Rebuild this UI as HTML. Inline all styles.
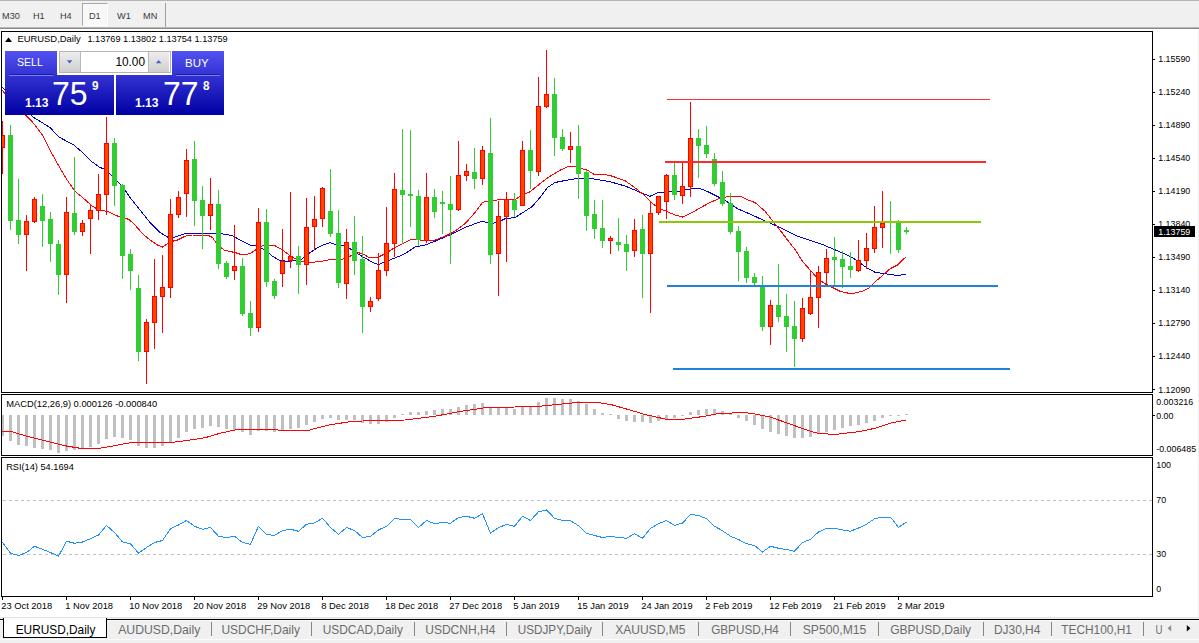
<!DOCTYPE html>
<html><head><meta charset="utf-8"><title>EURUSD,Daily</title>
<style>
html,body{margin:0;padding:0;}
body{width:1199px;height:643px;overflow:hidden;background:#f0f0f0;font-family:"Liberation Sans",sans-serif;position:relative;}
#tb{position:absolute;left:0;top:0;width:1199px;height:27px;background:#f0f0f0;border-top:1px solid #b4b4b4;box-sizing:border-box;}
#tb span{position:absolute;top:9px;font-size:9.8px;line-height:11px;color:#3a3a3a;transform:scaleX(.935);transform-origin:0 0;}
#d1{position:absolute;left:82px;top:2px;width:24px;height:21px;border:1px solid #a8a8a8;border-right-color:#fff;border-bottom-color:#fff;background:#f8f8f8;}
#sep{position:absolute;left:165px;top:2px;width:1px;height:24px;background:#a0a0a0;}
#l1{position:absolute;left:0;top:27px;width:1199px;height:1px;background:#b8b8b8;}
#l2{position:absolute;left:0;top:28px;width:1199px;height:1px;background:#8a8a8a;}
#main{position:absolute;left:0;top:29px;width:1198px;height:588px;background:#fff;}
svg{position:absolute;left:0;top:0;}
svg text{font-family:"Liberation Sans",sans-serif;fill:#000;}
#tabs{position:absolute;left:0;top:617px;width:1199px;height:26px;background:#f0f0f0;border-top:1px solid #e2e2e2;box-sizing:border-box;}
#tabs .ln{position:absolute;left:0;top:1px;width:1199px;height:1px;background:#000;border-bottom:1px solid #fafafa;}
#tabs .bl2{position:absolute;left:0;top:21px;width:1199px;height:1px;background:#fbfbfb;}
#tabs .act{position:absolute;left:3px;top:0px;width:102px;height:19px;background:#fff;border:1px solid #000;border-top:none;}
#tabs span{position:absolute;top:5px;font-size:11.8px;line-height:14px;color:#7d7d7d;white-space:nowrap;}
#tabs span.a{color:#000;}
#tabs i{position:absolute;top:4px;width:1px;height:14px;background:#868686;}
#tp{position:absolute;left:5px;top:51px;width:219px;height:64px;}
#tp .bl{position:absolute;background:linear-gradient(#5252f2,#0000a2);}
#tp .t{position:absolute;color:#fff;white-space:nowrap;}
</style></head><body>

<div id="tb">
<div id="d1"></div><div id="sep"></div>
<span style="left:2.0px">M30</span>
<span style="left:32.8px">H1</span>
<span style="left:59.9px">H4</span>
<span style="left:88.5px">D1</span>
<span style="left:116.5px">W1</span>
<span style="left:142.7px">MN</span>
</div><div id="l1"></div><div id="l2"></div>
<div id="main"></div>
<svg width="1199" height="643" viewBox="0 0 1199 643" font-size="9.3">
<g shape-rendering="crispEdges" fill="none" stroke="#000" stroke-width="1">
<rect x="1.5" y="31.5" width="1151" height="361"/>
<rect x="1.5" y="394.5" width="1151" height="61"/>
<rect x="1.5" y="457.5" width="1151" height="139"/>
</g>
<defs><clipPath id="cm"><rect x="2" y="32" width="1150" height="360"/></clipPath></defs>
<g clip-path="url(#cm)" shape-rendering="crispEdges">
<polyline points="2.00,87.00 10.00,95.00 20.00,105.00 33.75,117.50 50.00,127.50 58.75,137.00 73.75,145.00 82.50,152.50 91.25,161.25 100.00,167.50 105.00,169.25 112.50,176.25 122.50,186.25 130.00,197.50 140.00,210.00 150.00,222.50 160.00,232.50 167.50,237.00 175.00,237.00 185.00,233.75 195.00,233.00 212.50,233.00 225.00,234.25 232.50,235.75 240.00,240.00 250.00,245.00 257.50,246.25 265.00,250.00 272.50,256.25 280.00,260.50 287.50,261.25 300.00,260.50 310.00,252.50 320.00,246.25 330.00,242.50 336.25,245.00 343.75,245.75 350.00,248.75 357.50,253.75 365.00,258.00 373.75,263.00 378.75,264.50 386.25,261.25 395.00,258.00 405.00,253.75 415.00,247.00 425.00,245.00 435.00,241.25 445.00,237.00 455.00,232.50 465.00,227.50 475.00,223.75 482.50,221.25 490.00,223.75 497.50,222.50 505.00,218.75 515.00,217.50 525.00,211.25 532.50,206.25 540.00,197.50 547.50,187.50 555.00,182.50 565.00,180.50 577.50,178.50 590.00,178.25 610.00,181.75 625.00,186.00 640.00,192.25 650.00,196.25 657.50,192.75 667.50,191.75 680.00,191.00 690.00,189.00 700.00,188.50 707.50,191.50 717.50,196.50 727.50,202.00 737.50,208.75 747.50,213.00 757.50,217.50 767.50,222.00 777.50,226.25 787.50,231.25 797.50,236.25 805.00,238.75 812.50,241.25 822.50,244.50 832.50,248.75 842.50,253.00 852.50,257.50 860.00,263.00 867.50,268.25 875.00,272.25 885.00,273.75 897.50,275.50 905.75,274.25" fill="none" stroke="#0000d0" stroke-width="1" />
<polyline points="2.00,90.00 10.00,100.00 20.00,110.00 28.25,117.50 35.00,125.00 42.50,135.00 50.00,150.00 57.50,163.75 66.25,178.75 75.00,191.25 82.50,197.50 92.50,206.25 100.00,210.50 107.50,211.25 115.00,215.00 122.50,218.00 128.75,219.25 135.00,225.00 142.50,233.75 150.00,240.00 157.50,245.00 162.50,247.00 167.50,243.75 172.50,241.25 177.50,240.00 185.00,236.25 192.50,235.00 207.50,235.00 212.50,237.50 217.50,245.00 225.00,250.50 235.00,252.50 242.50,255.00 250.00,253.75 257.50,248.75 262.50,245.75 275.00,245.75 282.50,250.00 290.00,255.50 295.00,258.75 305.00,262.50 320.00,261.75 330.00,259.50 340.00,260.00 350.00,256.25 357.50,252.50 362.50,253.75 370.00,258.00 377.50,257.50 385.00,253.75 395.00,247.50 402.50,243.75 411.25,239.50 417.50,239.50 425.00,240.75 435.00,240.00 445.00,236.25 455.00,231.25 465.00,223.75 475.00,212.50 482.50,202.50 490.00,200.50 505.00,199.50 515.00,200.00 520.00,196.25 530.00,191.75 540.00,183.75 550.00,176.25 560.00,170.25 567.50,166.75 575.00,166.25 582.50,168.75 587.50,170.25 595.00,175.00 603.00,174.00 612.50,176.25 625.00,180.75 634.00,187.00 642.50,193.75 650.00,201.25 657.50,207.50 666.25,211.25 675.00,215.00 682.50,217.00 690.00,213.75 700.00,208.00 710.00,202.50 720.00,198.25 730.00,196.25 740.00,196.25 750.00,200.75 755.00,202.50 765.00,211.25 775.00,223.75 780.00,230.00 787.50,240.00 795.00,249.50 802.50,261.25 810.00,270.00 817.50,278.25 825.00,283.75 832.50,287.50 840.00,291.25 847.50,293.00 855.00,293.00 862.50,291.25 868.75,288.00 875.00,282.00 882.50,275.50 890.00,268.75 897.50,265.00 905.75,257.00" fill="none" stroke="#ff0000" stroke-width="1" />
</g>
<g shape-rendering="crispEdges" clip-path="url(#cm)">
<rect x="2" y="121" width="1" height="53" fill="#ff0000"/>
<rect x="0" y="135" width="5" height="13" fill="#ff0000"/>
<rect x="1" y="136" width="3" height="11" fill="#ff4500"/>
<rect x="10" y="125" width="1" height="105" fill="#32cd32"/>
<rect x="8" y="135" width="5" height="86" fill="#32cd32"/>
<rect x="18" y="179" width="1" height="65" fill="#32cd32"/>
<rect x="16" y="220" width="5" height="15" fill="#32cd32"/>
<rect x="26" y="215" width="1" height="56" fill="#ff0000"/>
<rect x="24" y="221" width="5" height="14" fill="#ff0000"/>
<rect x="25" y="222" width="3" height="12" fill="#ff4500"/>
<rect x="34" y="197" width="1" height="26" fill="#ff0000"/>
<rect x="32" y="199" width="5" height="23" fill="#ff0000"/>
<rect x="33" y="200" width="3" height="21" fill="#ff4500"/>
<rect x="42" y="194" width="1" height="53" fill="#32cd32"/>
<rect x="40" y="206" width="5" height="15" fill="#32cd32"/>
<rect x="50" y="212" width="1" height="50" fill="#32cd32"/>
<rect x="48" y="219" width="5" height="25" fill="#32cd32"/>
<rect x="58" y="240" width="1" height="55" fill="#32cd32"/>
<rect x="56" y="244" width="5" height="31" fill="#32cd32"/>
<rect x="66" y="197" width="1" height="106" fill="#ff0000"/>
<rect x="64" y="212" width="5" height="63" fill="#ff0000"/>
<rect x="65" y="213" width="3" height="61" fill="#ff4500"/>
<rect x="74" y="157" width="1" height="78" fill="#32cd32"/>
<rect x="72" y="213" width="5" height="19" fill="#32cd32"/>
<rect x="82" y="220" width="1" height="16" fill="#ff0000"/>
<rect x="80" y="223" width="5" height="9" fill="#ff0000"/>
<rect x="81" y="224" width="3" height="7" fill="#ff4500"/>
<rect x="90" y="205" width="1" height="49" fill="#ff0000"/>
<rect x="88" y="210" width="5" height="9" fill="#ff0000"/>
<rect x="89" y="211" width="3" height="7" fill="#ff4500"/>
<rect x="98" y="174" width="1" height="46" fill="#ff0000"/>
<rect x="96" y="194" width="5" height="17" fill="#ff0000"/>
<rect x="97" y="195" width="3" height="15" fill="#ff4500"/>
<rect x="106" y="117" width="1" height="98" fill="#ff0000"/>
<rect x="104" y="143" width="5" height="52" fill="#ff0000"/>
<rect x="105" y="144" width="3" height="50" fill="#ff4500"/>
<rect x="114" y="138" width="1" height="68" fill="#32cd32"/>
<rect x="112" y="143" width="5" height="43" fill="#32cd32"/>
<rect x="122" y="184" width="1" height="95" fill="#32cd32"/>
<rect x="120" y="185" width="5" height="71" fill="#32cd32"/>
<rect x="130" y="249" width="1" height="41" fill="#32cd32"/>
<rect x="128" y="254" width="5" height="17" fill="#32cd32"/>
<rect x="138" y="275" width="1" height="86" fill="#32cd32"/>
<rect x="136" y="288" width="5" height="64" fill="#32cd32"/>
<rect x="146" y="319" width="1" height="65" fill="#ff0000"/>
<rect x="144" y="322" width="5" height="30" fill="#ff0000"/>
<rect x="145" y="323" width="3" height="28" fill="#ff4500"/>
<rect x="154" y="259" width="1" height="90" fill="#ff0000"/>
<rect x="152" y="296" width="5" height="27" fill="#ff0000"/>
<rect x="153" y="297" width="3" height="25" fill="#ff4500"/>
<rect x="162" y="255" width="1" height="78" fill="#ff0000"/>
<rect x="160" y="287" width="5" height="10" fill="#ff0000"/>
<rect x="161" y="288" width="3" height="8" fill="#ff4500"/>
<rect x="170" y="199" width="1" height="99" fill="#ff0000"/>
<rect x="168" y="214" width="5" height="74" fill="#ff0000"/>
<rect x="169" y="215" width="3" height="72" fill="#ff4500"/>
<rect x="178" y="191" width="1" height="27" fill="#ff0000"/>
<rect x="176" y="197" width="5" height="18" fill="#ff0000"/>
<rect x="177" y="198" width="3" height="16" fill="#ff4500"/>
<rect x="186" y="149" width="1" height="68" fill="#ff0000"/>
<rect x="184" y="160" width="5" height="34" fill="#ff0000"/>
<rect x="185" y="161" width="3" height="32" fill="#ff4500"/>
<rect x="194" y="141" width="1" height="85" fill="#32cd32"/>
<rect x="192" y="159" width="5" height="42" fill="#32cd32"/>
<rect x="202" y="186" width="1" height="63" fill="#32cd32"/>
<rect x="200" y="200" width="5" height="16" fill="#32cd32"/>
<rect x="210" y="178" width="1" height="52" fill="#ff0000"/>
<rect x="208" y="204" width="5" height="12" fill="#ff0000"/>
<rect x="209" y="205" width="3" height="10" fill="#ff4500"/>
<rect x="218" y="190" width="1" height="79" fill="#32cd32"/>
<rect x="216" y="204" width="5" height="60" fill="#32cd32"/>
<rect x="226" y="261" width="1" height="18" fill="#32cd32"/>
<rect x="224" y="263" width="5" height="14" fill="#32cd32"/>
<rect x="234" y="225" width="1" height="55" fill="#ff0000"/>
<rect x="232" y="266" width="5" height="5" fill="#ff0000"/>
<rect x="233" y="267" width="3" height="3" fill="#ff4500"/>
<rect x="242" y="258" width="1" height="58" fill="#32cd32"/>
<rect x="240" y="266" width="5" height="48" fill="#32cd32"/>
<rect x="250" y="301" width="1" height="35" fill="#32cd32"/>
<rect x="248" y="313" width="5" height="15" fill="#32cd32"/>
<rect x="258" y="208" width="1" height="124" fill="#ff0000"/>
<rect x="256" y="222" width="5" height="106" fill="#ff0000"/>
<rect x="257" y="223" width="3" height="104" fill="#ff4500"/>
<rect x="266" y="209" width="1" height="78" fill="#32cd32"/>
<rect x="264" y="222" width="5" height="60" fill="#32cd32"/>
<rect x="274" y="279" width="1" height="20" fill="#32cd32"/>
<rect x="272" y="281" width="5" height="15" fill="#32cd32"/>
<rect x="282" y="229" width="1" height="58" fill="#ff0000"/>
<rect x="280" y="261" width="5" height="13" fill="#ff0000"/>
<rect x="281" y="262" width="3" height="11" fill="#ff4500"/>
<rect x="290" y="192" width="1" height="76" fill="#ff0000"/>
<rect x="288" y="256" width="5" height="5" fill="#ff0000"/>
<rect x="289" y="257" width="3" height="3" fill="#ff4500"/>
<rect x="298" y="246" width="1" height="48" fill="#32cd32"/>
<rect x="296" y="256" width="5" height="9" fill="#32cd32"/>
<rect x="306" y="198" width="1" height="87" fill="#ff0000"/>
<rect x="304" y="227" width="5" height="38" fill="#ff0000"/>
<rect x="305" y="228" width="3" height="36" fill="#ff4500"/>
<rect x="314" y="196" width="1" height="54" fill="#ff0000"/>
<rect x="312" y="219" width="5" height="8" fill="#ff0000"/>
<rect x="313" y="220" width="3" height="6" fill="#ff4500"/>
<rect x="322" y="187" width="1" height="40" fill="#ff0000"/>
<rect x="320" y="188" width="5" height="31" fill="#ff0000"/>
<rect x="321" y="189" width="3" height="29" fill="#ff4500"/>
<rect x="330" y="169" width="1" height="68" fill="#32cd32"/>
<rect x="328" y="211" width="5" height="23" fill="#32cd32"/>
<rect x="338" y="210" width="1" height="78" fill="#32cd32"/>
<rect x="336" y="233" width="5" height="50" fill="#32cd32"/>
<rect x="346" y="229" width="1" height="70" fill="#ff0000"/>
<rect x="344" y="242" width="5" height="42" fill="#ff0000"/>
<rect x="345" y="243" width="3" height="40" fill="#ff4500"/>
<rect x="354" y="216" width="1" height="59" fill="#32cd32"/>
<rect x="352" y="242" width="5" height="19" fill="#32cd32"/>
<rect x="362" y="236" width="1" height="97" fill="#32cd32"/>
<rect x="360" y="259" width="5" height="48" fill="#32cd32"/>
<rect x="370" y="297" width="1" height="15" fill="#ff0000"/>
<rect x="368" y="301" width="5" height="6" fill="#ff0000"/>
<rect x="369" y="302" width="3" height="4" fill="#ff4500"/>
<rect x="378" y="253" width="1" height="48" fill="#ff0000"/>
<rect x="376" y="270" width="5" height="29" fill="#ff0000"/>
<rect x="377" y="271" width="3" height="27" fill="#ff4500"/>
<rect x="386" y="207" width="1" height="69" fill="#ff0000"/>
<rect x="384" y="243" width="5" height="28" fill="#ff0000"/>
<rect x="385" y="244" width="3" height="26" fill="#ff4500"/>
<rect x="394" y="173" width="1" height="84" fill="#ff0000"/>
<rect x="392" y="189" width="5" height="55" fill="#ff0000"/>
<rect x="393" y="190" width="3" height="53" fill="#ff4500"/>
<rect x="402" y="129" width="1" height="115" fill="#32cd32"/>
<rect x="400" y="190" width="5" height="5" fill="#32cd32"/>
<rect x="410" y="130" width="1" height="97" fill="#32cd32"/>
<rect x="408" y="194" width="5" height="2" fill="#32cd32"/>
<rect x="418" y="190" width="1" height="56" fill="#32cd32"/>
<rect x="416" y="196" width="5" height="44" fill="#32cd32"/>
<rect x="426" y="173" width="1" height="70" fill="#ff0000"/>
<rect x="424" y="197" width="5" height="44" fill="#ff0000"/>
<rect x="425" y="198" width="3" height="42" fill="#ff4500"/>
<rect x="434" y="189" width="1" height="29" fill="#32cd32"/>
<rect x="432" y="197" width="5" height="15" fill="#32cd32"/>
<rect x="442" y="191" width="1" height="43" fill="#32cd32"/>
<rect x="440" y="202" width="5" height="2" fill="#32cd32"/>
<rect x="450" y="176" width="1" height="88" fill="#32cd32"/>
<rect x="448" y="204" width="5" height="6" fill="#32cd32"/>
<rect x="458" y="141" width="1" height="70" fill="#ff0000"/>
<rect x="456" y="175" width="5" height="35" fill="#ff0000"/>
<rect x="457" y="176" width="3" height="33" fill="#ff4500"/>
<rect x="466" y="164" width="1" height="17" fill="#ff0000"/>
<rect x="464" y="171" width="5" height="5" fill="#ff0000"/>
<rect x="465" y="172" width="3" height="3" fill="#ff4500"/>
<rect x="474" y="148" width="1" height="41" fill="#32cd32"/>
<rect x="472" y="172" width="5" height="7" fill="#32cd32"/>
<rect x="482" y="146" width="1" height="39" fill="#ff0000"/>
<rect x="480" y="150" width="5" height="29" fill="#ff0000"/>
<rect x="481" y="151" width="3" height="27" fill="#ff4500"/>
<rect x="490" y="118" width="1" height="146" fill="#32cd32"/>
<rect x="488" y="153" width="5" height="102" fill="#32cd32"/>
<rect x="498" y="201" width="1" height="95" fill="#ff0000"/>
<rect x="496" y="216" width="5" height="38" fill="#ff0000"/>
<rect x="497" y="217" width="3" height="36" fill="#ff4500"/>
<rect x="506" y="192" width="1" height="70" fill="#ff0000"/>
<rect x="504" y="199" width="5" height="18" fill="#ff0000"/>
<rect x="505" y="200" width="3" height="16" fill="#ff4500"/>
<rect x="514" y="193" width="1" height="24" fill="#32cd32"/>
<rect x="512" y="200" width="5" height="10" fill="#32cd32"/>
<rect x="522" y="141" width="1" height="65" fill="#ff0000"/>
<rect x="520" y="150" width="5" height="56" fill="#ff0000"/>
<rect x="521" y="151" width="3" height="54" fill="#ff4500"/>
<rect x="530" y="130" width="1" height="59" fill="#32cd32"/>
<rect x="528" y="150" width="5" height="21" fill="#32cd32"/>
<rect x="538" y="77" width="1" height="99" fill="#ff0000"/>
<rect x="536" y="106" width="5" height="66" fill="#ff0000"/>
<rect x="537" y="107" width="3" height="64" fill="#ff4500"/>
<rect x="546" y="50" width="1" height="58" fill="#ff0000"/>
<rect x="544" y="94" width="5" height="13" fill="#ff0000"/>
<rect x="545" y="95" width="3" height="11" fill="#ff4500"/>
<rect x="554" y="78" width="1" height="78" fill="#32cd32"/>
<rect x="552" y="94" width="5" height="44" fill="#32cd32"/>
<rect x="562" y="129" width="1" height="22" fill="#32cd32"/>
<rect x="560" y="137" width="5" height="12" fill="#32cd32"/>
<rect x="570" y="132" width="1" height="31" fill="#ff0000"/>
<rect x="568" y="146" width="5" height="4" fill="#ff0000"/>
<rect x="569" y="147" width="3" height="2" fill="#ff4500"/>
<rect x="578" y="125" width="1" height="74" fill="#32cd32"/>
<rect x="576" y="146" width="5" height="28" fill="#32cd32"/>
<rect x="586" y="170" width="1" height="61" fill="#32cd32"/>
<rect x="584" y="172" width="5" height="44" fill="#32cd32"/>
<rect x="594" y="200" width="1" height="39" fill="#32cd32"/>
<rect x="592" y="214" width="5" height="15" fill="#32cd32"/>
<rect x="602" y="200" width="1" height="48" fill="#32cd32"/>
<rect x="600" y="228" width="5" height="13" fill="#32cd32"/>
<rect x="610" y="236" width="1" height="18" fill="#ff0000"/>
<rect x="608" y="238" width="5" height="3" fill="#ff0000"/>
<rect x="609" y="239" width="3" height="1" fill="#ff4500"/>
<rect x="618" y="218" width="1" height="33" fill="#32cd32"/>
<rect x="616" y="242" width="5" height="3" fill="#32cd32"/>
<rect x="626" y="235" width="1" height="36" fill="#32cd32"/>
<rect x="624" y="244" width="5" height="8" fill="#32cd32"/>
<rect x="634" y="219" width="1" height="38" fill="#ff0000"/>
<rect x="632" y="230" width="5" height="21" fill="#ff0000"/>
<rect x="633" y="231" width="3" height="19" fill="#ff4500"/>
<rect x="642" y="215" width="1" height="83" fill="#32cd32"/>
<rect x="640" y="229" width="5" height="25" fill="#32cd32"/>
<rect x="650" y="201" width="1" height="112" fill="#ff0000"/>
<rect x="648" y="213" width="5" height="41" fill="#ff0000"/>
<rect x="649" y="214" width="3" height="39" fill="#ff4500"/>
<rect x="658" y="196" width="1" height="19" fill="#ff0000"/>
<rect x="656" y="196" width="5" height="17" fill="#ff0000"/>
<rect x="657" y="197" width="3" height="15" fill="#ff4500"/>
<rect x="666" y="174" width="1" height="45" fill="#ff0000"/>
<rect x="664" y="175" width="5" height="27" fill="#ff0000"/>
<rect x="665" y="176" width="3" height="25" fill="#ff4500"/>
<rect x="674" y="163" width="1" height="37" fill="#32cd32"/>
<rect x="672" y="175" width="5" height="20" fill="#32cd32"/>
<rect x="682" y="163" width="1" height="41" fill="#ff0000"/>
<rect x="680" y="186" width="5" height="10" fill="#ff0000"/>
<rect x="681" y="187" width="3" height="8" fill="#ff4500"/>
<rect x="690" y="102" width="1" height="95" fill="#ff0000"/>
<rect x="688" y="138" width="5" height="49" fill="#ff0000"/>
<rect x="689" y="139" width="3" height="47" fill="#ff4500"/>
<rect x="698" y="129" width="1" height="49" fill="#32cd32"/>
<rect x="696" y="138" width="5" height="8" fill="#32cd32"/>
<rect x="706" y="126" width="1" height="32" fill="#32cd32"/>
<rect x="704" y="145" width="5" height="9" fill="#32cd32"/>
<rect x="714" y="153" width="1" height="33" fill="#32cd32"/>
<rect x="712" y="159" width="5" height="25" fill="#32cd32"/>
<rect x="722" y="171" width="1" height="35" fill="#32cd32"/>
<rect x="720" y="182" width="5" height="22" fill="#32cd32"/>
<rect x="730" y="193" width="1" height="41" fill="#32cd32"/>
<rect x="728" y="203" width="5" height="29" fill="#32cd32"/>
<rect x="738" y="226" width="1" height="55" fill="#32cd32"/>
<rect x="736" y="231" width="5" height="21" fill="#32cd32"/>
<rect x="746" y="247" width="1" height="36" fill="#32cd32"/>
<rect x="744" y="251" width="5" height="27" fill="#32cd32"/>
<rect x="754" y="273" width="1" height="12" fill="#32cd32"/>
<rect x="752" y="277" width="5" height="6" fill="#32cd32"/>
<rect x="762" y="276" width="1" height="55" fill="#32cd32"/>
<rect x="760" y="285" width="5" height="42" fill="#32cd32"/>
<rect x="770" y="300" width="1" height="45" fill="#ff0000"/>
<rect x="768" y="305" width="5" height="22" fill="#ff0000"/>
<rect x="769" y="306" width="3" height="20" fill="#ff4500"/>
<rect x="778" y="264" width="1" height="58" fill="#32cd32"/>
<rect x="776" y="305" width="5" height="12" fill="#32cd32"/>
<rect x="786" y="294" width="1" height="58" fill="#32cd32"/>
<rect x="784" y="316" width="5" height="11" fill="#32cd32"/>
<rect x="794" y="301" width="1" height="66" fill="#32cd32"/>
<rect x="792" y="326" width="5" height="13" fill="#32cd32"/>
<rect x="802" y="298" width="1" height="44" fill="#ff0000"/>
<rect x="800" y="308" width="5" height="31" fill="#ff0000"/>
<rect x="801" y="309" width="3" height="29" fill="#ff4500"/>
<rect x="810" y="271" width="1" height="44" fill="#ff0000"/>
<rect x="808" y="297" width="5" height="17" fill="#ff0000"/>
<rect x="809" y="298" width="3" height="15" fill="#ff4500"/>
<rect x="818" y="266" width="1" height="62" fill="#ff0000"/>
<rect x="816" y="272" width="5" height="26" fill="#ff0000"/>
<rect x="817" y="273" width="3" height="24" fill="#ff4500"/>
<rect x="826" y="249" width="1" height="35" fill="#ff0000"/>
<rect x="824" y="258" width="5" height="15" fill="#ff0000"/>
<rect x="825" y="259" width="3" height="13" fill="#ff4500"/>
<rect x="834" y="237" width="1" height="48" fill="#32cd32"/>
<rect x="832" y="257" width="5" height="3" fill="#32cd32"/>
<rect x="842" y="251" width="1" height="37" fill="#32cd32"/>
<rect x="840" y="259" width="5" height="8" fill="#32cd32"/>
<rect x="850" y="252" width="1" height="26" fill="#32cd32"/>
<rect x="848" y="266" width="5" height="4" fill="#32cd32"/>
<rect x="858" y="240" width="1" height="32" fill="#ff0000"/>
<rect x="856" y="260" width="5" height="11" fill="#ff0000"/>
<rect x="857" y="261" width="3" height="9" fill="#ff4500"/>
<rect x="866" y="233" width="1" height="36" fill="#ff0000"/>
<rect x="864" y="248" width="5" height="13" fill="#ff0000"/>
<rect x="865" y="249" width="3" height="11" fill="#ff4500"/>
<rect x="874" y="206" width="1" height="47" fill="#ff0000"/>
<rect x="872" y="227" width="5" height="22" fill="#ff0000"/>
<rect x="873" y="228" width="3" height="20" fill="#ff4500"/>
<rect x="882" y="191" width="1" height="57" fill="#ff0000"/>
<rect x="880" y="223" width="5" height="5" fill="#ff0000"/>
<rect x="881" y="224" width="3" height="3" fill="#ff4500"/>
<rect x="890" y="201" width="1" height="53" fill="#32cd32"/>
<rect x="888" y="221" width="5" height="1" fill="#32cd32"/>
<rect x="898" y="220" width="1" height="33" fill="#32cd32"/>
<rect x="896" y="223" width="5" height="27" fill="#32cd32"/>
<rect x="906" y="227" width="1" height="7" fill="#32cd32"/>
<rect x="904" y="230" width="5" height="2" fill="#32cd32"/>
</g>
<g shape-rendering="crispEdges">
<rect x="667" y="99" width="323" height="1" fill="#ff3030"/>
<rect x="665" y="161" width="321" height="2" fill="#ff2a30"/>
<rect x="659" y="221" width="322" height="2" fill="#8cc80a"/>
<rect x="667" y="285" width="331" height="2" fill="#1e82dc"/>
<rect x="673" y="368" width="337" height="2" fill="#1e82dc"/>
</g>
<g shape-rendering="crispEdges">
<rect x="2" y="415" width="2" height="21" fill="#c0c0c0"/>
<rect x="9" y="415" width="3" height="26" fill="#c0c0c0"/>
<rect x="17" y="415" width="3" height="30" fill="#c0c0c0"/>
<rect x="25" y="415" width="3" height="31" fill="#c0c0c0"/>
<rect x="33" y="415" width="3" height="33" fill="#c0c0c0"/>
<rect x="41" y="415" width="3" height="34" fill="#c0c0c0"/>
<rect x="49" y="415" width="3" height="35" fill="#c0c0c0"/>
<rect x="57" y="415" width="3" height="38" fill="#c0c0c0"/>
<rect x="65" y="415" width="3" height="36" fill="#c0c0c0"/>
<rect x="73" y="415" width="3" height="35" fill="#c0c0c0"/>
<rect x="81" y="415" width="3" height="33" fill="#c0c0c0"/>
<rect x="89" y="415" width="3" height="32" fill="#c0c0c0"/>
<rect x="97" y="415" width="3" height="29" fill="#c0c0c0"/>
<rect x="105" y="415" width="3" height="24" fill="#c0c0c0"/>
<rect x="113" y="415" width="3" height="22" fill="#c0c0c0"/>
<rect x="121" y="415" width="3" height="23" fill="#c0c0c0"/>
<rect x="129" y="415" width="3" height="25" fill="#c0c0c0"/>
<rect x="137" y="415" width="3" height="31" fill="#c0c0c0"/>
<rect x="145" y="415" width="3" height="33" fill="#c0c0c0"/>
<rect x="153" y="415" width="3" height="33" fill="#c0c0c0"/>
<rect x="161" y="415" width="3" height="31" fill="#c0c0c0"/>
<rect x="169" y="415" width="3" height="27" fill="#c0c0c0"/>
<rect x="177" y="415" width="3" height="23" fill="#c0c0c0"/>
<rect x="185" y="415" width="3" height="17" fill="#c0c0c0"/>
<rect x="193" y="415" width="3" height="14" fill="#c0c0c0"/>
<rect x="201" y="415" width="3" height="13" fill="#c0c0c0"/>
<rect x="209" y="415" width="3" height="11" fill="#c0c0c0"/>
<rect x="217" y="415" width="3" height="12" fill="#c0c0c0"/>
<rect x="225" y="415" width="3" height="14" fill="#c0c0c0"/>
<rect x="233" y="415" width="3" height="15" fill="#c0c0c0"/>
<rect x="241" y="415" width="3" height="17" fill="#c0c0c0"/>
<rect x="249" y="415" width="3" height="20" fill="#c0c0c0"/>
<rect x="257" y="415" width="3" height="16" fill="#c0c0c0"/>
<rect x="265" y="415" width="3" height="16" fill="#c0c0c0"/>
<rect x="273" y="415" width="3" height="17" fill="#c0c0c0"/>
<rect x="281" y="415" width="3" height="15" fill="#c0c0c0"/>
<rect x="289" y="415" width="3" height="14" fill="#c0c0c0"/>
<rect x="297" y="415" width="3" height="13" fill="#c0c0c0"/>
<rect x="305" y="415" width="3" height="10" fill="#c0c0c0"/>
<rect x="313" y="415" width="3" height="7" fill="#c0c0c0"/>
<rect x="321" y="415" width="3" height="4" fill="#c0c0c0"/>
<rect x="329" y="415" width="3" height="3" fill="#c0c0c0"/>
<rect x="337" y="415" width="3" height="5" fill="#c0c0c0"/>
<rect x="345" y="415" width="3" height="5" fill="#c0c0c0"/>
<rect x="353" y="415" width="3" height="5" fill="#c0c0c0"/>
<rect x="361" y="415" width="3" height="8" fill="#c0c0c0"/>
<rect x="369" y="415" width="3" height="9" fill="#c0c0c0"/>
<rect x="377" y="415" width="3" height="9" fill="#c0c0c0"/>
<rect x="385" y="415" width="3" height="7" fill="#c0c0c0"/>
<rect x="393" y="415" width="3" height="3" fill="#c0c0c0"/>
<rect x="401" y="414" width="3" height="1" fill="#c0c0c0"/>
<rect x="409" y="412" width="3" height="3" fill="#c0c0c0"/>
<rect x="417" y="412" width="3" height="3" fill="#c0c0c0"/>
<rect x="425" y="411" width="3" height="4" fill="#c0c0c0"/>
<rect x="433" y="410" width="3" height="5" fill="#c0c0c0"/>
<rect x="441" y="409" width="3" height="6" fill="#c0c0c0"/>
<rect x="449" y="409" width="3" height="6" fill="#c0c0c0"/>
<rect x="457" y="407" width="3" height="8" fill="#c0c0c0"/>
<rect x="465" y="405" width="3" height="10" fill="#c0c0c0"/>
<rect x="473" y="404" width="3" height="11" fill="#c0c0c0"/>
<rect x="481" y="403" width="3" height="12" fill="#c0c0c0"/>
<rect x="489" y="407" width="3" height="8" fill="#c0c0c0"/>
<rect x="497" y="408" width="3" height="7" fill="#c0c0c0"/>
<rect x="505" y="408" width="3" height="7" fill="#c0c0c0"/>
<rect x="513" y="409" width="3" height="6" fill="#c0c0c0"/>
<rect x="521" y="406" width="3" height="9" fill="#c0c0c0"/>
<rect x="529" y="406" width="3" height="9" fill="#c0c0c0"/>
<rect x="537" y="402" width="3" height="13" fill="#c0c0c0"/>
<rect x="545" y="398" width="3" height="17" fill="#c0c0c0"/>
<rect x="553" y="398" width="3" height="17" fill="#c0c0c0"/>
<rect x="561" y="399" width="3" height="16" fill="#c0c0c0"/>
<rect x="569" y="399" width="3" height="16" fill="#c0c0c0"/>
<rect x="577" y="401" width="3" height="14" fill="#c0c0c0"/>
<rect x="585" y="404" width="3" height="11" fill="#c0c0c0"/>
<rect x="593" y="409" width="3" height="6" fill="#c0c0c0"/>
<rect x="601" y="413" width="3" height="2" fill="#c0c0c0"/>
<rect x="609" y="414" width="3" height="1" fill="#c0c0c0"/>
<rect x="617" y="415" width="3" height="4" fill="#c0c0c0"/>
<rect x="625" y="415" width="3" height="6" fill="#c0c0c0"/>
<rect x="633" y="415" width="3" height="7" fill="#c0c0c0"/>
<rect x="641" y="415" width="3" height="7" fill="#c0c0c0"/>
<rect x="649" y="415" width="3" height="8" fill="#c0c0c0"/>
<rect x="657" y="415" width="3" height="6" fill="#c0c0c0"/>
<rect x="665" y="415" width="3" height="4" fill="#c0c0c0"/>
<rect x="673" y="415" width="3" height="3" fill="#c0c0c0"/>
<rect x="681" y="415" width="3" height="1" fill="#c0c0c0"/>
<rect x="689" y="412" width="3" height="3" fill="#c0c0c0"/>
<rect x="697" y="410" width="3" height="5" fill="#c0c0c0"/>
<rect x="705" y="409" width="3" height="6" fill="#c0c0c0"/>
<rect x="713" y="409" width="3" height="6" fill="#c0c0c0"/>
<rect x="721" y="411" width="3" height="4" fill="#c0c0c0"/>
<rect x="729" y="413" width="3" height="2" fill="#c0c0c0"/>
<rect x="737" y="415" width="3" height="3" fill="#c0c0c0"/>
<rect x="745" y="415" width="3" height="6" fill="#c0c0c0"/>
<rect x="753" y="415" width="3" height="10" fill="#c0c0c0"/>
<rect x="761" y="415" width="3" height="14" fill="#c0c0c0"/>
<rect x="769" y="415" width="3" height="17" fill="#c0c0c0"/>
<rect x="777" y="415" width="3" height="19" fill="#c0c0c0"/>
<rect x="785" y="415" width="3" height="21" fill="#c0c0c0"/>
<rect x="793" y="415" width="3" height="23" fill="#c0c0c0"/>
<rect x="801" y="415" width="3" height="23" fill="#c0c0c0"/>
<rect x="809" y="415" width="3" height="22" fill="#c0c0c0"/>
<rect x="817" y="415" width="3" height="19" fill="#c0c0c0"/>
<rect x="825" y="415" width="3" height="17" fill="#c0c0c0"/>
<rect x="833" y="415" width="3" height="15" fill="#c0c0c0"/>
<rect x="841" y="415" width="3" height="13" fill="#c0c0c0"/>
<rect x="849" y="415" width="3" height="11" fill="#c0c0c0"/>
<rect x="857" y="415" width="3" height="10" fill="#c0c0c0"/>
<rect x="865" y="415" width="3" height="8" fill="#c0c0c0"/>
<rect x="873" y="415" width="3" height="6" fill="#c0c0c0"/>
<rect x="881" y="415" width="3" height="3" fill="#c0c0c0"/>
<rect x="889" y="415" width="3" height="1" fill="#c0c0c0"/>
<rect x="897" y="415" width="3" height="1" fill="#c0c0c0"/>
<rect x="905" y="414" width="3" height="1" fill="#c0c0c0"/>
</g>
<polyline points="2.00,431.25 11.00,431.25 18.75,434.00 35.00,438.25 50.00,442.00 65.00,445.75 80.00,448.25 100.00,448.25 110.00,446.50 130.00,442.75 140.00,442.00 175.00,442.00 185.00,440.75 205.00,437.75 220.00,433.25 235.00,430.00 240.00,429.50 275.00,429.50 280.00,430.25 308.75,430.25 327.50,425.25 352.50,421.25 405.00,420.00 435.00,416.25 460.00,411.50 485.00,407.75 515.00,407.00 540.00,406.25 565.00,403.75 580.00,402.25 597.50,402.50 612.50,405.00 630.00,410.00 645.00,414.50 665.00,419.00 685.00,419.00 705.00,416.25 720.00,413.25 730.00,413.25 740.00,412.00 755.00,414.00 770.00,417.00 790.00,424.00 805.00,429.50 817.50,433.25 835.00,434.50 860.00,431.50 875.00,428.25 890.00,423.25 906.00,420.00" fill="none" stroke="#ff0000" stroke-width="1" shape-rendering="crispEdges"/>
<g shape-rendering="crispEdges" stroke="#c0c0c0" stroke-width="1" stroke-dasharray="3,3">
<line x1="3" y1="500.5" x2="1152" y2="500.5"/>
<line x1="3" y1="554.5" x2="1152" y2="554.5"/>
</g>
<polyline points="2.50,542.50 10.50,553.25 18.50,555.50 26.50,552.50 34.50,546.25 42.50,549.25 50.50,552.50 58.50,556.25 66.50,541.25 74.50,543.25 82.50,542.00 90.50,538.75 98.50,535.00 106.50,525.50 114.50,532.50 122.50,542.00 130.50,543.75 138.50,553.25 146.50,547.50 154.50,542.50 162.50,540.50 170.50,528.75 178.50,525.00 186.50,520.50 194.50,526.25 202.50,529.25 210.50,527.50 218.50,536.25 226.50,537.50 234.50,536.25 242.50,542.50 250.50,544.25 258.50,526.25 266.50,534.25 274.50,535.50 282.50,530.50 290.50,529.25 298.50,531.25 306.50,524.25 314.50,523.00 322.50,518.25 330.50,527.50 338.50,534.25 346.50,527.50 354.50,530.50 362.50,537.50 370.50,536.25 378.50,530.00 386.50,526.25 394.50,518.25 402.50,519.50 410.50,519.50 418.50,527.50 426.50,520.50 434.50,523.75 442.50,522.50 450.50,523.25 458.50,517.50 466.50,516.25 474.50,518.25 482.50,513.75 490.50,533.25 498.50,527.50 506.50,524.50 514.50,526.25 522.50,516.25 530.50,520.50 538.50,511.75 546.50,510.00 554.50,518.25 562.50,520.50 570.50,520.75 578.50,525.75 586.50,533.25 594.50,535.50 602.50,537.50 610.50,536.25 618.50,537.50 626.50,538.25 634.50,533.75 642.50,538.25 650.50,528.25 658.50,523.75 666.50,520.50 674.50,525.50 682.50,523.00 690.50,514.50 698.50,515.50 706.50,518.75 714.50,526.25 722.50,530.75 730.50,536.25 738.50,539.50 746.50,543.75 754.50,545.50 762.50,552.00 770.50,546.25 778.50,548.25 786.50,549.50 794.50,551.25 802.50,542.50 810.50,539.25 818.50,532.00 826.50,528.25 834.50,528.25 842.50,530.00 850.50,531.25 858.50,528.00 866.50,524.25 874.50,518.75 882.50,517.00 890.50,517.00 898.50,527.50 906.50,522.00" fill="none" stroke="#1e90ff" stroke-width="1" shape-rendering="crispEdges"/>
<g shape-rendering="crispEdges" fill="#000">
<rect x="1153" y="59" width="2" height="1"/>
<rect x="1153" y="92" width="2" height="1"/>
<rect x="1153" y="125" width="2" height="1"/>
<rect x="1153" y="158" width="2" height="1"/>
<rect x="1153" y="191" width="2" height="1"/>
<rect x="1153" y="224" width="2" height="1"/>
<rect x="1153" y="257" width="2" height="1"/>
<rect x="1153" y="290" width="2" height="1"/>
<rect x="1153" y="323" width="2" height="1"/>
<rect x="1153" y="356" width="2" height="1"/>
<rect x="1153" y="389" width="2" height="1"/>
<rect x="1153" y="415" width="2" height="1"/>
<rect x="2" y="597" width="1" height="3"/>
<rect x="66" y="597" width="1" height="3"/>
<rect x="130" y="597" width="1" height="3"/>
<rect x="194" y="597" width="1" height="3"/>
<rect x="258" y="597" width="1" height="3"/>
<rect x="322" y="597" width="1" height="3"/>
<rect x="386" y="597" width="1" height="3"/>
<rect x="450" y="597" width="1" height="3"/>
<rect x="514" y="597" width="1" height="3"/>
<rect x="578" y="597" width="1" height="3"/>
<rect x="642" y="597" width="1" height="3"/>
<rect x="706" y="597" width="1" height="3"/>
<rect x="770" y="597" width="1" height="3"/>
<rect x="834" y="597" width="1" height="3"/>
<rect x="898" y="597" width="1" height="3"/>
</g>
<text transform="translate(1158.2 62.4) scale(.925 1)" font-size="9.6">1.15590</text>
<text transform="translate(1158.2 95.4) scale(.925 1)" font-size="9.6">1.15240</text>
<text transform="translate(1158.2 128.4) scale(.925 1)" font-size="9.6">1.14890</text>
<text transform="translate(1158.2 161.4) scale(.925 1)" font-size="9.6">1.14540</text>
<text transform="translate(1158.2 194.4) scale(.925 1)" font-size="9.6">1.14190</text>
<text transform="translate(1158.2 227.4) scale(.925 1)" font-size="9.6">1.13840</text>
<text transform="translate(1158.2 260.4) scale(.925 1)" font-size="9.6">1.13490</text>
<text transform="translate(1158.2 293.4) scale(.925 1)" font-size="9.6">1.13140</text>
<text transform="translate(1158.2 326.4) scale(.925 1)" font-size="9.6">1.12790</text>
<text transform="translate(1158.2 359.4) scale(.925 1)" font-size="9.6">1.12440</text>
<text transform="translate(1158.2 393.2) scale(.925 1)" font-size="9.6">1.12090</text>
<rect x="1154" y="226" width="41" height="11" fill="#000" shape-rendering="crispEdges"/>
<text transform="translate(1158.2 234.8) scale(.925 1)" font-size="9.6" style="fill:#fff">1.13759</text>
<text transform="translate(1156.2 404.8) scale(.925 1)" font-size="9.6">0.003216</text>
<text transform="translate(1156.2 418.8) scale(.925 1)" font-size="9.6">0.00</text>
<text transform="translate(1156.2 451.8) scale(.925 1)" font-size="9.6">-0.006485</text>
<text transform="translate(1156.2 467.8) scale(.925 1)" font-size="9.6">100</text>
<text transform="translate(1156.2 503) scale(.925 1)" font-size="9.6">70</text>
<text transform="translate(1156.2 557) scale(.925 1)" font-size="9.6">30</text>
<text transform="translate(1156.2 592.2) scale(.925 1)" font-size="9.6">0</text>
<text x="6.2" y="407" font-size="9.8" textLength="151" lengthAdjust="spacingAndGlyphs">MACD(12,26,9) 0.000126 -0.000840</text>
<text x="6.2" y="469.8" font-size="9.8" textLength="67.6" lengthAdjust="spacingAndGlyphs">RSI(14) 54.1694</text>
<path d="M5 42 L12 42 L8.5 37.6 Z" fill="#000"/>
<text x="17.4" y="42.1" textLength="63.3" lengthAdjust="spacingAndGlyphs" font-size="9.8">EURUSD,Daily</text>
<text x="87.4" y="42.1" textLength="140.3" lengthAdjust="spacingAndGlyphs" font-size="9.8">1.13769 1.13802 1.13754 1.13759</text>
<text transform="translate(1.2 608.8) scale(.955 1)" font-size="9.8">23 Oct 2018</text>
<text transform="translate(65.2 608.8) scale(.955 1)" font-size="9.8">1 Nov 2018</text>
<text transform="translate(129.2 608.8) scale(.955 1)" font-size="9.8">10 Nov 2018</text>
<text transform="translate(193.2 608.8) scale(.955 1)" font-size="9.8">20 Nov 2018</text>
<text transform="translate(257.2 608.8) scale(.955 1)" font-size="9.8">29 Nov 2018</text>
<text transform="translate(321.2 608.8) scale(.955 1)" font-size="9.8">8 Dec 2018</text>
<text transform="translate(385.2 608.8) scale(.955 1)" font-size="9.8">18 Dec 2018</text>
<text transform="translate(449.2 608.8) scale(.955 1)" font-size="9.8">27 Dec 2018</text>
<text transform="translate(513.2 608.8) scale(.955 1)" font-size="9.8">5 Jan 2019</text>
<text transform="translate(577.2 608.8) scale(.955 1)" font-size="9.8">15 Jan 2019</text>
<text transform="translate(641.2 608.8) scale(.955 1)" font-size="9.8">24 Jan 2019</text>
<text transform="translate(705.2 608.8) scale(.955 1)" font-size="9.8">2 Feb 2019</text>
<text transform="translate(769.2 608.8) scale(.955 1)" font-size="9.8">12 Feb 2019</text>
<text transform="translate(833.2 608.8) scale(.955 1)" font-size="9.8">21 Feb 2019</text>
<text transform="translate(897.2 608.8) scale(.955 1)" font-size="9.8">2 Mar 2019</text>
</svg>
<div id="tp">
<div class="bl" style="left:0;top:0;width:109px;height:64px;"></div>
<div class="bl" style="left:111px;top:0;width:108px;height:64px;"></div>
<div style="position:absolute;left:52px;top:0;width:115px;height:24px;background:#fff;"></div>
<div style="position:absolute;left:54px;top:0px;width:112px;height:22px;background:#fff;border:1px solid #b4b4b4;box-sizing:border-box;"></div>
<div style="position:absolute;left:55px;top:1px;width:20px;height:20px;background:linear-gradient(#ededed,#cfcfcf);border-right:1px solid #b8b8b8;box-sizing:content-box;"></div>
<div style="position:absolute;left:143px;top:1px;width:21px;height:20px;background:linear-gradient(#ededed,#cfcfcf);border-left:1px solid #b8b8b8;box-sizing:border-box;"></div>
<svg style="left:55px;top:2px" width="20" height="18"><path d="M6.8 7.2 L12.4 7.2 L9.6 10.4 Z" fill="#4c60c4"/></svg>
<svg style="left:144px;top:2px" width="20" height="18"><path d="M6.8 10.2 L12.4 10.2 L9.6 7 Z" fill="#4c60c4"/></svg>
<div class="t" style="left:75px;top:3.7px;width:64.6px;text-align:right;color:#000;font-size:12.8px;line-height:14px;"><span style="display:inline-block;transform:scaleX(.925);transform-origin:100% 0;">10.00</span></div>
<div class="t" style="left:11.8px;top:4px;font-size:11.5px;line-height:14px;transform:scaleX(.92);transform-origin:0 0;">SELL</div>
<div class="t" style="left:180px;top:4.5px;font-size:11.5px;line-height:14px;">BUY</div>
<div style="position:absolute;left:4px;top:24px;width:44px;height:1px;background:#7c7cf4;"></div>
<div style="position:absolute;left:171px;top:24px;width:44px;height:1px;background:#7c7cf4;"></div>
<div style="position:absolute;left:4px;top:23px;width:44px;height:1px;background:#1c1ca8;"></div>
<div style="position:absolute;left:171px;top:23px;width:44px;height:1px;background:#1c1ca8;"></div>
<div class="t" style="left:19.8px;top:43.6px;font-size:13.3px;line-height:15px;font-weight:bold;transform:scaleX(.91);transform-origin:0 0;">1.13</div>
<div class="t" style="left:46.8px;top:25.2px;font-size:33px;line-height:36px;transform:scaleX(.97);transform-origin:0 0;">75</div>
<div class="t" style="left:87px;top:28px;font-size:13px;line-height:14px;font-weight:bold;transform:scaleX(.9);transform-origin:0 0;">9</div>
<div class="t" style="left:130.2px;top:43.6px;font-size:13.3px;line-height:15px;font-weight:bold;transform:scaleX(.91);transform-origin:0 0;">1.13</div>
<div class="t" style="left:158.3px;top:25.2px;font-size:33px;line-height:36px;transform:scaleX(.97);transform-origin:0 0;">77</div>
<div class="t" style="left:198px;top:28px;font-size:13px;line-height:14px;font-weight:bold;transform:scaleX(.9);transform-origin:0 0;">8</div>
</div>
<div id="tabs"><div class="ln"></div><div class="bl2"></div><div class="act"></div>
<svg width="1199" height="25" style="left:0;top:0" font-size="11.9">
<text x="15.7" y="15.6" textLength="79.7" lengthAdjust="spacingAndGlyphs" style="fill:#000">EURUSD,Daily</text>
<text x="118.2" y="15.6" textLength="82.2" lengthAdjust="spacingAndGlyphs" style="fill:#6c6c6c">AUDUSD,Daily</text>
<text x="221.39999999999998" y="15.6" textLength="78.5" lengthAdjust="spacingAndGlyphs" style="fill:#6c6c6c">USDCHF,Daily</text>
<text x="322.7" y="15.6" textLength="80.2" lengthAdjust="spacingAndGlyphs" style="fill:#6c6c6c">USDCAD,Daily</text>
<text x="425.2" y="15.6" textLength="70.2" lengthAdjust="spacingAndGlyphs" style="fill:#6c6c6c">USDCNH,H4</text>
<text x="517.7" y="15.6" textLength="74.2" lengthAdjust="spacingAndGlyphs" style="fill:#6c6c6c">USDJPY,Daily</text>
<text x="615.2" y="15.6" textLength="70.2" lengthAdjust="spacingAndGlyphs" style="fill:#6c6c6c">XAUUSD,M5</text>
<text x="711.2" y="15.6" textLength="67.7" lengthAdjust="spacingAndGlyphs" style="fill:#6c6c6c">GBPUSD,H4</text>
<text x="802.7" y="15.6" textLength="63.7" lengthAdjust="spacingAndGlyphs" style="fill:#6c6c6c">SP500,M15</text>
<text x="890.2" y="15.6" textLength="80.9" lengthAdjust="spacingAndGlyphs" style="fill:#6c6c6c">GBPUSD,Daily</text>
<text x="993.9000000000001" y="15.6" textLength="46.5" lengthAdjust="spacingAndGlyphs" style="fill:#6c6c6c">DJ30,H4</text>
<text x="1061.2" y="15.6" textLength="70.7" lengthAdjust="spacingAndGlyphs" style="fill:#6c6c6c">TECH100,H1</text>
<text x="1155.5" y="15.6" textLength="7.0" lengthAdjust="spacingAndGlyphs" style="fill:#6c6c6c">U</text>
</svg>
<i style="left:211px"></i>
<i style="left:311px"></i>
<i style="left:414px"></i>
<i style="left:506px"></i>
<i style="left:602px"></i>
<i style="left:698px"></i>
<i style="left:790px"></i>
<i style="left:878px"></i>
<i style="left:983px"></i>
<i style="left:1051px"></i>
<i style="left:1143px"></i>
<svg style="left:1160px;top:2px" width="39" height="19"><path d="M11 8.5 L7.6 5.3 L11 5.0 Z" fill="none"/><path d="M11.2 5 L11.2 11.4 L7.6 8.2 Z" fill="#8c8c8c"/><path d="M26.8 5 L26.8 11.4 L30.4 8.2 Z" fill="#000"/></svg>
</div>
</body></html>
